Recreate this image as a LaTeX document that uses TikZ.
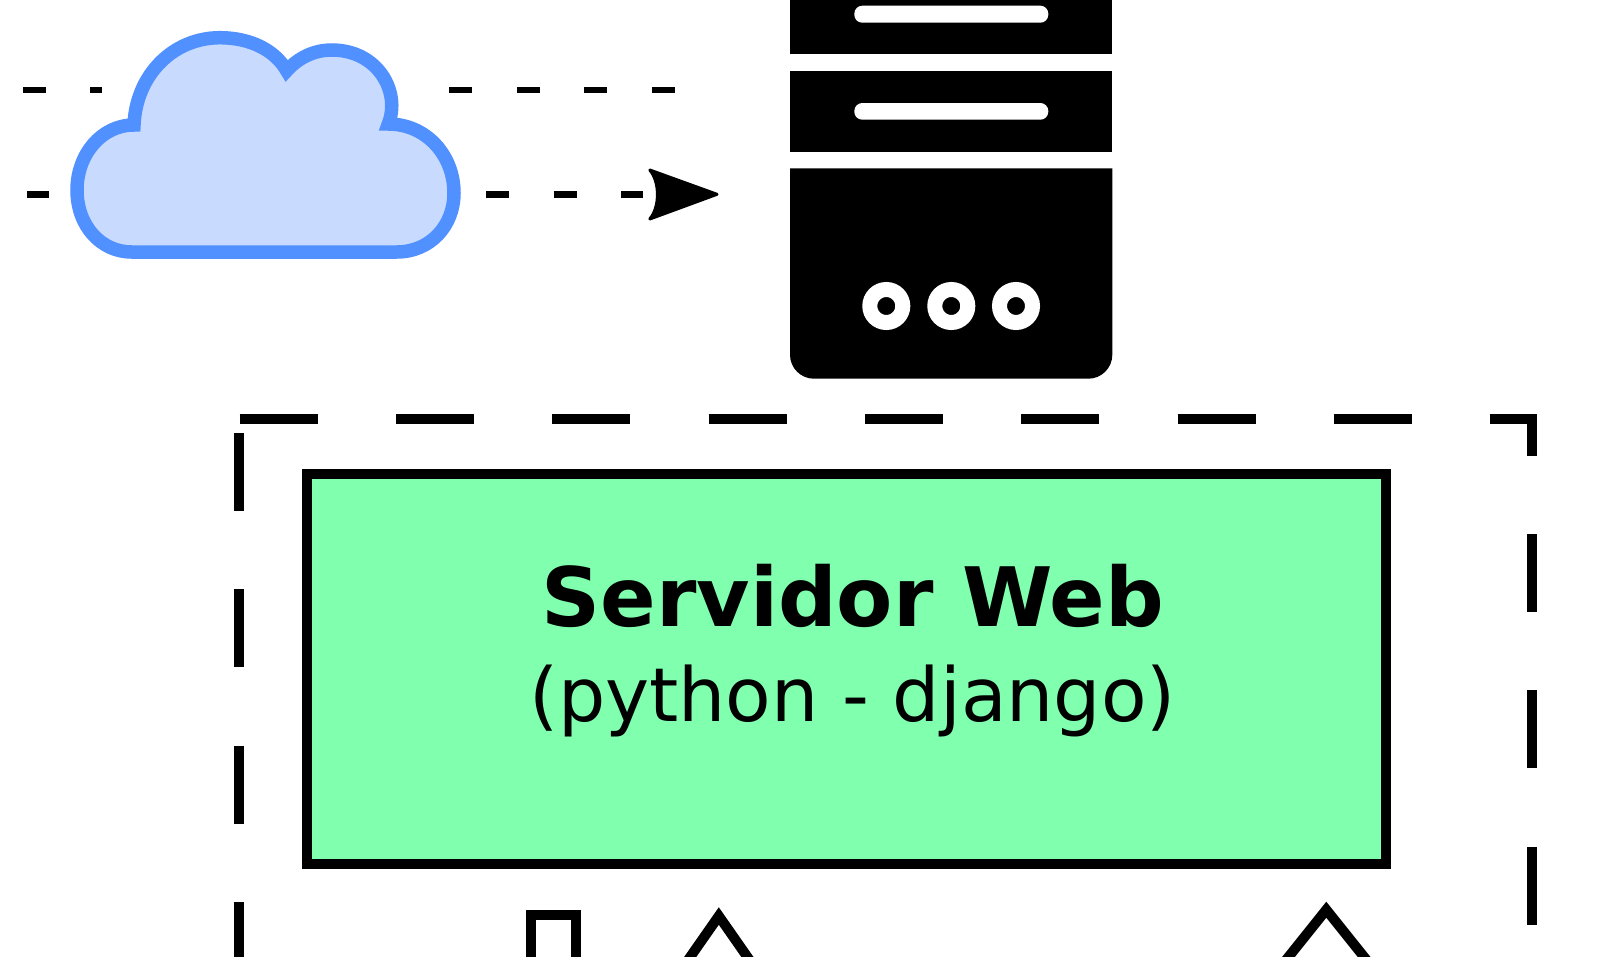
\documentclass[tikz,border=0pt]{standalone}
\usepackage{fontspec}
\setmainfont{DejaVu Sans}
\definecolor{cloudline}{HTML}{5190FF}
\definecolor{cloudfill}{HTML}{C8DBFF}
\definecolor{boxfill}{HTML}{80FFAF}
\tikzset{
  dashline/.style={line width=6.8pt,dash pattern=on 23pt off 44.5pt},
  framedash/.style={line width=10pt,miter limit=10,dash pattern=on 78.15pt off 78.15pt},
  cloudshape/.style={line width=13.5pt,draw=cloudline,fill=cloudfill,line join=miter,miter limit=10},
  rack/.style={fill=black},
  slot/.style={fill=white,rounded corners=8pt},
  led/.style={draw=white,line width=15pt},
  mainbox/.style={draw=black,line width=10pt,fill=boxfill,inner sep=0pt,minimum width=1079.5pt,minimum height=389.5pt},
  boxtitle/.style={anchor=base,inner sep=0pt,font=\fontsize{82}{96}\selectfont\bfseries},
  boxsub/.style={anchor=base,inner sep=0pt,font=\fontsize{74.5}{90}\selectfont},
  stub/.style={line width=10pt,miter limit=10}
}
\begin{document}
\begin{tikzpicture}[x=1pt,y=-1pt]
\useasboundingbox (0,0) rectangle (1620,956);
\clip (0,0) rectangle (1620,956);
\fill[white] (0,0) rectangle (1620,956);

% named coordinates of the connectors
\coordinate (a1) at (22.8,90);
\coordinate (a2) at (101.8,90);
\coordinate (a3) at (449.3,90);
\coordinate (a4) at (675,90);
\coordinate (b1) at (26.7,194.3);
\coordinate (b2) at (49.4,194.3);
\coordinate (b3) at (486,194.3);
\coordinate (b4) at (642.7,194.3);

\draw[dashline] (a1) -- (a2);
\draw[dashline] (a3) -- (a4);
\draw[dashline] (b1) -- (b2);
\draw[dashline] (b3) -- (b4);
\fill[black,draw=black,line width=3pt,line join=round]
  (649.8,170) -- (717,194.3) -- (649.8,219)
  .. controls (660,207) and (660,182) .. (649.8,170) -- cycle;

% cloud
\draw[cloudshape] (131.7,252) -- (396.7,252)
  .. controls (430,252) and (454,226) .. (454,193)
  .. controls (454,155) and (426,124) .. (388.3,124)
  .. controls (401,92) and (378,50) .. (331.7,50)
  .. controls (314,50) and (298,58) .. (286.7,70.7)
  .. controls (275,50) and (250,37.7) .. (220,37.7)
  .. controls (173,37.7) and (136,75) .. (134,125)
  .. controls (101,125) and (77,155) .. (77,190)
  .. controls (77,226) and (101,252) .. (131.7,252) -- cycle;

% server
\fill[rack] (790,-5) rectangle (1112.3,54.3);
\fill[rack] (790,71) rectangle (1112.3,151.7);
\fill[rack] (790,168.3) -- (1112.3,168.3) -- (1112.3,354.7)
  arc[start angle=0,end angle=90,radius=24] -- (814,378.7)
  arc[start angle=90,end angle=180,radius=24] -- cycle;
\fill[slot] (854.3,5.7) rectangle (1048.3,22.7);
\fill[slot] (854.3,103) rectangle (1048.3,119.7);
\draw[led] (886.3,306) circle[radius=16.5];
\draw[led] (951.3,306) circle[radius=16.5];
\draw[led] (1016,306) circle[radius=16.5];

% dashed frame
\draw[framedash] (239.7,419.3) -- (1531.7,419.3) -- (1531.7,1000);
\draw[framedash] (239.3,433) -- (239.3,1000);

% main box
\node[mainbox] (web) at (846.5,668.75) {};
\node[boxtitle] (webtitle) at (852.8,626) {Servidor Web};
\node[boxsub] (websub) at (852.4,721) {(python - django)};

% stubs at the bottom edge
\coordinate (s1a) at (530.8,980);
\coordinate (s1b) at (530.8,915);
\coordinate (s1c) at (576,915);
\coordinate (s1d) at (576,980);
\draw[stub] (s1a) -- (s1b) -- (s1c) -- (s1d);
\coordinate (s2a) at (676.9,976);
\coordinate (s2b) at (718.8,916);
\coordinate (s2c) at (760.7,976);
\draw[stub] (s2a) -- (s2b) -- (s2c);
\coordinate (s3a) at (1270.3,979.7);
\coordinate (s3b) at (1326.3,909.7);
\coordinate (s3c) at (1382.3,979.7);
\draw[stub] (s3a) -- (s3b) -- (s3c);
\end{tikzpicture}
\end{document}
